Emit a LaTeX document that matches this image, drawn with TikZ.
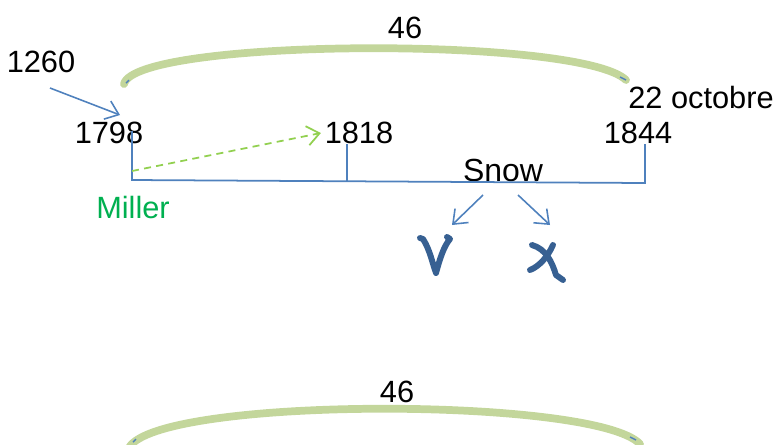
\documentclass[tikz,border=0pt]{standalone}
\usepackage{fontspec}
\setmainfont{Liberation Sans}
\usetikzlibrary{positioning, arrows.meta}
\definecolor{cB}{RGB}{79,129,189}
\definecolor{cG}{RGB}{195,214,155}
\definecolor{cL}{RGB}{146,208,80}
\definecolor{cM}{RGB}{0,176,80}
\definecolor{cH}{RGB}{55,96,146}

\begin{document}
\begin{tikzpicture}[x=0.02cm, y=-0.02cm,
                    every node/.style={inner sep=0pt, font=\fontsize{17.5}{20}\selectfont},
                    tline/.style={draw=cB, line width=1pt},
                    barb/.style={-{Straight Barb[length=7pt, width=11pt]}, draw=cB, line width=0.9pt},
                    garc/.style={draw=cG, line width=4.4pt, line cap=round},
                    tick/.style={draw=cB, line width=0.8pt},
                    hand/.style={draw=cH, line width=3.4pt, line cap=round, line join=round}]
    \useasboundingbox (0,0) rectangle (773,444);
    \clip (0,0) rectangle (773,444);

    % Labels
    \node (n46) at (405,28) {46};
    \node (t1260) at (41,62) {1260};
    \node (t1798) at (109,133) {1798};
    \node (t1818) at (359,133) {1818};
    \node (t1844) at (638,133) {1844};
    \node (oct) at (701,98) {22 octobre};
    \node[font=\fontsize{18.2}{20}\selectfont] (snow) at (503,170) {Snow};
    \node[text=cM] (miller) at (133,208) {Miller};
    \node (n46b) at (397,392) {46};

    % Timeline
    \coordinate (a0) at (132,131);
    \coordinate (a1) at (132,180);
    \coordinate (b0) at (347,144);
    \coordinate (b1) at (347,181);
    \coordinate (c0) at (645,144);
    \coordinate (c1) at (645,183);
    \draw[tline] (a0) -- (a1) -- (c1) -- (c0);
    \draw[tline] (b0) -- (b1);

    % Arrows
    \coordinate (p1260) at (50,88);
    \coordinate (q1798) at (120,115);
    \draw[barb] (p1260) -- (q1798);
    \coordinate (ml) at (132,171);
    \draw[-{Straight Barb[length=7pt, width=11pt]}, draw=cL, line width=1pt, dash pattern=on 4pt off 3pt]
        (ml) -- ([xshift=-2]t1818.west);
    \coordinate (s0) at (483,195);
    \coordinate (s1) at (452,225);
    \coordinate (s2) at (518,195);
    \coordinate (s3) at (550,225);
    \draw[barb] (s0) -- (s1);
    \draw[barb] (s2) -- (s3);

    % Arcs of 46
    \draw[garc] (124,84) .. controls (135,38) and (580,36) .. (626,80);
    \draw[tick] (126,83) -- (129,80);
    \draw[tick] (620,77) -- (626,80);
    \draw[garc] (128,450) .. controls (145,396) and (595,396) .. (640,444);
    \draw[tick] (133,442) -- (136,439);
    \draw[tick] (630,437) -- (636,440);

    % Handwritten marks
    \draw[hand] (420,238) -- (423,239) .. controls (430,250) and (432,262) .. (436,273)
        .. controls (440,258) and (444,246) .. (450,239) -- (447,237);
    \draw[hand] (532,245) .. controls (546,249) and (552,262) .. (556,275) -- (563,280);
    \draw[hand] (553,245) .. controls (548,256) and (540,266) .. (530,270);

\end{tikzpicture}
\end{document}
